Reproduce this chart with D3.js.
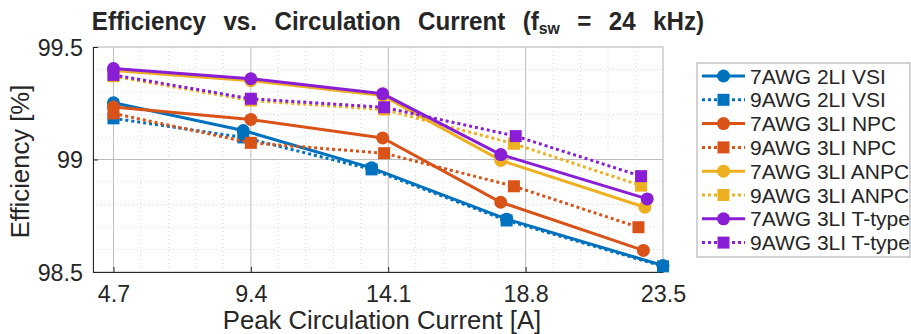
<!DOCTYPE html>
<html>
<head>
<meta charset="utf-8">
<script src="https://cdn.jsdelivr.net/npm/d3@7"></script>
<style>
  body { margin: 0; background: #fff; }
  text { font-family: "Liberation Sans", Arial, sans-serif; fill: #262626; }
</style>
</head>
<body>
<script>
// data
const xTicks = [4.7, 9.4, 14.1, 18.8, 23.5];
const yTicks = [98.5, 99, 99.5];
const seriesNames = ["7AWG 2LI VSI", "9AWG 2LI VSI", "7AWG 3LI NPC", "9AWG 3LI NPC",
                     "7AWG 3LI ANPC", "9AWG 3LI ANPC", "7AWG 3LI T-type", "9AWG 3LI T-type"];
const vsi7  = [[4.7, 99.252], [9.14, 99.129], [13.53, 98.963], [18.15, 98.735], [23.5, 98.529]];
const vsi9  = [[4.7, 99.183], [9.14, 99.098], [13.53, 98.956], [18.15, 98.729], [23.5, 98.525]];
const npc7  = [[4.7, 99.233], [9.4, 99.178], [13.91, 99.096], [17.95, 98.81], [22.83, 98.596]];
const npc9  = [[4.7, 99.205], [9.4, 99.074], [13.96, 99.028], [18.4, 98.881], [22.66, 98.699]];
const anpc7 = [[4.7, 99.395], [9.4, 99.35], [13.91, 99.284], [17.95, 98.996], [22.88, 98.788]];
const anpc9 = [[4.7, 99.37], [9.4, 99.262], [13.96, 99.222], [18.4, 99.07], [22.75, 98.884]];
const tt7   = [[4.7, 99.404], [9.4, 99.359], [13.91, 99.292], [17.95, 99.022], [22.96, 98.825]];
const tt9   = [[4.7, 99.376], [9.4, 99.27], [13.96, 99.232], [18.46, 99.104], [22.75, 98.926]];

const blue = "#0072BD", orange = "#D95319", yellow = "#EDB120", purple = "#8A1ED6";
const series = [
  {name: seriesNames[0], data: vsi7,  color: blue,   dotted: false},
  {name: seriesNames[1], data: vsi9,  color: blue,   dotted: true},
  {name: seriesNames[2], data: npc7,  color: orange, dotted: false},
  {name: seriesNames[3], data: npc9,  color: orange, dotted: true},
  {name: seriesNames[4], data: anpc7, color: yellow, dotted: false},
  {name: seriesNames[5], data: anpc9, color: yellow, dotted: true},
  {name: seriesNames[6], data: tt7,   color: purple, dotted: false},
  {name: seriesNames[7], data: tt9,   color: purple, dotted: true}
];

const svg = d3.select("body").append("svg")
  .attr("width", 911)
  .attr("height", 334);

const pLeft = 93, pRight = 663, pTop = 47, pBottom = 272;

const x = d3.scaleLinear().domain([4, 23.5]).range([pLeft, pRight]);
const y = d3.scaleLinear().domain([98.5, 99.5]).range([pBottom, pTop]);

// minor grid
const xMinor = d3.range(4.7, 23.5, 0.94).filter(v => xTicks.every(t => Math.abs(t - v) > 0.05));
const yMinor = d3.range(98.5, 99.5, 0.1).filter(v => yTicks.every(t => Math.abs(t - v) > 0.01));

svg.append("g").selectAll("line").data(xMinor).join("line")
  .attr("x1", d => x(d)).attr("x2", d => x(d))
  .attr("y1", pTop).attr("y2", pBottom)
  .attr("stroke", "#d9d9d9").attr("stroke-width", 1).attr("stroke-dasharray", "1,3");
svg.append("g").selectAll("line").data(yMinor).join("line")
  .attr("x1", pLeft).attr("x2", pRight)
  .attr("y1", d => y(d)).attr("y2", d => y(d))
  .attr("stroke", "#d9d9d9").attr("stroke-width", 1).attr("stroke-dasharray", "1,3");

// major grid
svg.append("g").selectAll("line").data(xTicks).join("line")
  .attr("x1", d => x(d)).attr("x2", d => x(d))
  .attr("y1", pTop).attr("y2", pBottom)
  .attr("stroke", "#bdbdbd").attr("stroke-width", 1);
svg.append("g").selectAll("line").data(yTicks).join("line")
  .attr("x1", pLeft).attr("x2", pRight)
  .attr("y1", d => y(d)).attr("y2", d => y(d))
  .attr("stroke", "#bdbdbd").attr("stroke-width", 1);

// box
svg.append("rect")
  .attr("x", pLeft).attr("y", pTop)
  .attr("width", pRight - pLeft).attr("height", pBottom - pTop)
  .attr("fill", "none").attr("stroke", "#d0d0d0");

// axes
const xAxis = d3.axisBottom(x).tickValues(xTicks).tickFormat(d3.format(".1f")).tickSizeInner(-5).tickSizeOuter(0).tickPadding(13);
const yAxis = d3.axisLeft(y).tickValues(yTicks).tickFormat(d => d).tickSizeInner(-5).tickSizeOuter(0).tickPadding(10);

const gx = svg.append("g").attr("transform", `translate(0,${pBottom})`).call(xAxis);
const gy = svg.append("g").attr("transform", `translate(${pLeft},0)`).call(yAxis);
[gx, gy].forEach(g => {
  g.select(".domain").attr("stroke", "#262626");
  g.selectAll(".tick line").attr("stroke", "#262626");
  g.selectAll(".tick text").attr("font-size", 23.3).attr("font-family", "Liberation Sans, Arial, sans-serif").attr("fill", "#262626");
});
gy.selectAll(".tick text").attr("dy", "0.36em");

// lines
const line = d3.line().x(d => x(d[0])).y(d => y(d[1]));

series.forEach(s => {
  svg.append("path")
    .attr("d", line(s.data))
    .attr("fill", "none")
    .attr("stroke", s.color)
    .attr("stroke-width", 3)
    .attr("stroke-dasharray", s.dotted ? "3,3" : null);
  if (s.dotted) {
    svg.append("g").selectAll("rect").data(s.data).join("rect")
      .attr("x", d => x(d[0]) - 6).attr("y", d => y(d[1]) - 6)
      .attr("width", 12).attr("height", 12)
      .attr("fill", s.color);
  } else {
    svg.append("g").selectAll("circle").data(s.data).join("circle")
      .attr("cx", d => x(d[0])).attr("cy", d => y(d[1]))
      .attr("r", 6.5)
      .attr("fill", s.color);
  }
});

// title: slightly narrow bold, wide word gaps
const tScale = 0.93;
const title = svg.append("text")
  .attr("transform", `translate(398,30) scale(${tScale},1)`)
  .attr("text-anchor", "middle")
  .attr("font-size", 26).attr("font-weight", "bold");
title.append("tspan").text("Efficiency vs. Circulation Current (f");
title.append("tspan").attr("font-size", 17).attr("baseline-shift", "-25%").text("sw");
title.append("tspan").text(" = 24 kHz)");
const w0 = title.node().getComputedTextLength();
title.attr("word-spacing", Math.max(0, (623 / tScale - w0) / 8));

// axis labels
svg.append("text")
  .attr("x", (pLeft + pRight) / 2 + 4).attr("y", 329)
  .attr("text-anchor", "middle")
  .attr("font-size", 25.7)
  .text("Peak Circulation Current [A]");

svg.append("text")
  .attr("transform", `translate(29,${(pTop + pBottom) / 2 + 2}) rotate(-90)`)
  .attr("text-anchor", "middle")
  .attr("font-size", 25.7)
  .text("Efficiency [%]");

// legend
const lg = svg.append("g").attr("transform", "translate(697,63)");
lg.append("rect")
  .attr("x", 0).attr("y", 0).attr("width", 213).attr("height", 194)
  .attr("fill", "#fff").attr("stroke", "#a6a6a6");
series.forEach((s, i) => {
  const cy = 13 + i * 23.8;
  lg.append("line")
    .attr("x1", 5).attr("x2", 48).attr("y1", cy).attr("y2", cy)
    .attr("stroke", s.color).attr("stroke-width", 3)
    .attr("stroke-dasharray", s.dotted ? "3,3" : null);
  if (s.dotted) {
    lg.append("rect").attr("x", 20.5).attr("y", cy - 6).attr("width", 12).attr("height", 12).attr("fill", s.color);
  } else {
    lg.append("circle").attr("cx", 26.5).attr("cy", cy).attr("r", 6.5).attr("fill", s.color);
  }
  lg.append("text")
    .attr("x", 53).attr("y", cy).attr("dy", "0.36em")
    .attr("font-size", 21)
    .text(s.name);
});
</script>
</body>
</html>
